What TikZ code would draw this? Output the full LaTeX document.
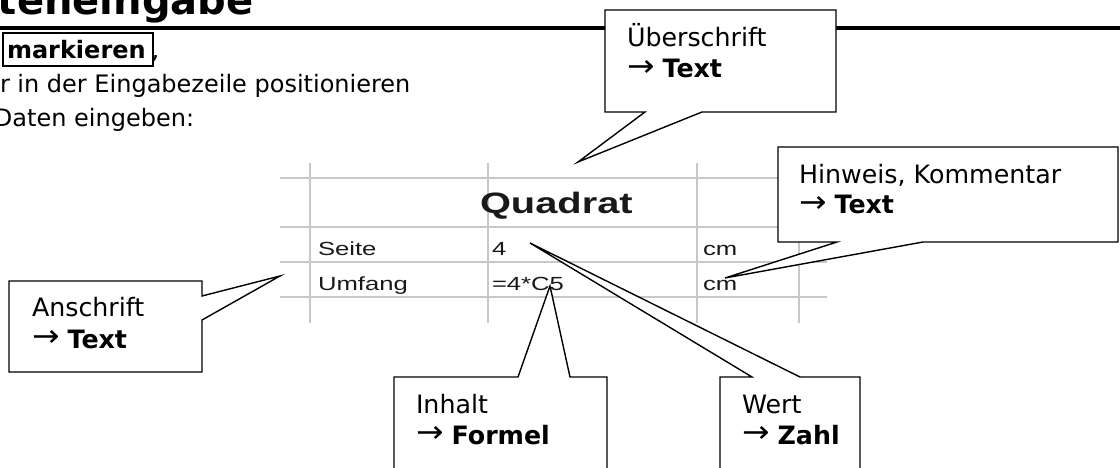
\documentclass[tikz,border=0pt]{standalone}
\usepackage{fontspec}
\usepackage{graphicx}
\setmainfont{DejaVu Sans}
\newfontfamily\sheetfont{Liberation Sans}
\newcommand{\pointer}{\raisebox{1.5pt}{\scalebox{1.3}[1.2]{→}}}

\begin{document}
\begin{tikzpicture}[x=1pt,y=-1pt,
  every node/.style={inner sep=0pt, outer sep=0pt, anchor=base west},
  body/.style={font=\fontsize{24}{29}\selectfont},
  txt/.style={font=\fontsize{25.3}{30}\selectfont},
  callout/.style={draw=black, fill=white, line width=1.4pt, line join=miter},
  gridline/.style={draw=black!22, line width=1.6pt},
  cell/.style={font=\sheetfont\fontsize{19}{22}\selectfont, text=black!90},
]
\useasboundingbox (0,0) rectangle (1120,468);

% heading and rule
\node[font=\bfseries\fontsize{40}{48}\selectfont] (title) at (-2,15) {teneingabe};
\draw[line width=4pt] (0,28) -- (1120,28);

% instructions
\node[body, font=\bfseries\fontsize{24}{29}\selectfont] (mark) at (7,59) {markieren};
\draw[line width=2.5pt] (3,33) rectangle (153,66);
\node[body] (comma) at ([xshift=6pt]mark.base east) {,};
\node[body] (line2) at (0,93) {r in der Eingabezeile positionieren};
\node[body] (line3) at (-6,127) {Daten eingeben:};

% spreadsheet grid
\foreach \y in {178,227,262,297} \draw[gridline] (280,\y) -- (827,\y);
\foreach \x in {310,488,697,799} \draw[gridline] (\x,163) -- (\x,323);

% spreadsheet cells
\node[cell] (quadrat) at (480,214) {\scalebox{1.35}[1]{\bfseries\fontsize{29.5}{32}\selectfont Quadrat}};
\node[cell] (seite) at (318,255) {\scalebox{1.35}[1]{Seite}};
\node[cell] (seitewert) at (492,255) {\scalebox{1.35}[1]{4}};
\node[cell] (seitecm) at (703,255) {\scalebox{1.35}[1]{cm}};
\node[cell] (umfang) at (318,290) {\scalebox{1.35}[1]{Umfang}};
\node[cell] (formel) at (492,290) {\scalebox{1.35}[1]{=4*C5}};
\node[cell] (umfangcm) at (703,290) {\scalebox{1.35}[1]{cm}};

% callout tips
\coordinate (tipUeber) at (578,162);
\coordinate (tipHinweis) at (725,278);
\coordinate (tipAnschrift) at (280,276);
\coordinate (tipInhalt) at (550,286);
\coordinate (tipWert) at (530,243);

% callout: Ueberschrift
\draw[callout] (605,10) -- (836,10) -- (836,112) -- (702,112) -- (tipUeber)
  -- (645,112) -- (605,112) -- cycle;
\node[txt] (ueber) at (627,47) {Überschrift};
\node[txt] (ueberT) at (627,78) {\pointer\ \textbf{Text}};

% callout: Hinweis
\draw[callout] (778,147) -- (1118,147) -- (1118,242) -- (923,242) -- (tipHinweis)
  -- (837,242) -- (778,242) -- cycle;
\node[txt] (hinweis) at (799,184) {Hinweis, Kommentar};
\node[txt] (hinweisT) at (799,214) {\pointer\ \textbf{Text}};

% callout: Anschrift
\draw[callout] (9,281) -- (202,281) -- (202,296) -- (tipAnschrift) -- (202,320)
  -- (202,372) -- (9,372) -- cycle;
\node[txt] (anschrift) at (32,316) {Anschrift};
\node[txt] (anschriftT) at (32,348) {\pointer\ \textbf{Text}};

% callout: Inhalt
\draw[callout] (394,480) -- (394,377) -- (518,377) -- (tipInhalt) -- (570,377)
  -- (607,377) -- (607,480) -- cycle;
\node[txt] (inhalt) at (416,413) {Inhalt};
\node[txt] (inhaltT) at (416,444) {\pointer\ \textbf{Formel}};

% callout: Wert
\draw[callout] (720,480) -- (720,377) -- (752,377) -- (tipWert) -- (800,377)
  -- (860,377) -- (860,480) -- cycle;
\node[txt] (wert) at (742,413) {Wert};
\node[txt] (wertT) at (742,444) {\pointer\ \textbf{Zahl}};
\end{tikzpicture}
\end{document}
